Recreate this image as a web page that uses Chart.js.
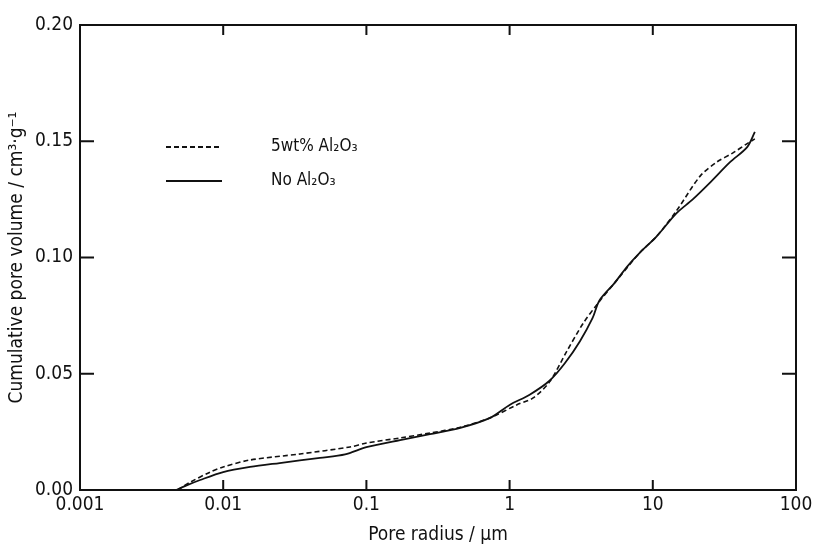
<!DOCTYPE html>
<html>
<head>
<meta charset="utf-8">
<script src="https://cdn.jsdelivr.net/npm/chart.js@4.4.0/dist/chart.umd.min.js"></script>
<style>
  html, body { margin: 0; background: #fff; }
  #wrap { width: 818px; height: 546px; }
</style>
</head>
<body>
<div id="wrap"><canvas id="poreChart"></canvas></div>
<script>
// tick values
const radiusTicks = [0.001, 0.01, 0.1, 1, 10, 100];
const volumeTicks = [0, 0.05, 0.10, 0.15, 0.20];

// No Al2O3 (solid)
const radiusNoAl = [0.0047, 0.0054, 0.0069, 0.010, 0.0154, 0.0248, 0.0474, 0.071, 0.10, 0.172, 0.278, 0.453, 0.73, 1.0, 1.38, 1.9, 2.43, 3.1, 3.8, 4.24, 5.4, 6.6, 8.1, 10.6, 14.6, 19.0, 24.9, 34.6, 45.6, 51.6];
const volumeNoAl = [0.0, 0.0017, 0.0043, 0.0077, 0.0099, 0.0116, 0.0138, 0.0153, 0.0184, 0.0215, 0.0240, 0.0267, 0.0310, 0.0366, 0.0410, 0.0470, 0.0545, 0.0640, 0.0740, 0.0815, 0.0890, 0.0960, 0.1020, 0.1090, 0.1190, 0.1250, 0.1320, 0.1410, 0.1475, 0.1540];

// 5wt% Al2O3 (dashed)
const radiusAl = [0.0048, 0.0059, 0.0081, 0.010, 0.0154, 0.0344, 0.0768, 0.10, 0.172, 0.278, 0.453, 0.73, 1.12, 1.46, 1.9, 2.5, 3.25, 4.1, 5.4, 8.1, 10.6, 14.6, 21.4, 27.9, 36.3, 45.6, 51.6];
const volumeAl = [0.0, 0.0034, 0.0077, 0.0099, 0.0129, 0.0155, 0.0185, 0.0202, 0.0224, 0.0245, 0.0270, 0.0310, 0.0366, 0.0396, 0.0465, 0.0595, 0.0715, 0.0800, 0.0890, 0.1020, 0.1090, 0.1200, 0.1350, 0.1410, 0.1450, 0.1490, 0.1510];

const seriesNames = ['5wt% Al\u2082O\u2083', 'No Al\u2082O\u2083'];

const fontFamily = '"DejaVu Sans Condensed", "DejaVu Sans", sans-serif';
const ink = '#111';

const toPoints = (xs, ys) => xs.map((r, i) => ({ x: r, y: ys[i] }));

// frame, inward ticks and the legend inside the plot
const frameTicks = {
  id: 'frameTicks',
  afterDatasetsDraw(chart) {
    const { ctx, chartArea: a, scales: { x, y } } = chart;
    ctx.save();
    ctx.strokeStyle = ink;
    ctx.lineWidth = 2;
    ctx.strokeRect(a.left, a.top, a.right - a.left, a.bottom - a.top);
    ctx.beginPath();
    radiusTicks.forEach(v => {
      const px = x.getPixelForValue(v);
      ctx.moveTo(px, a.bottom); ctx.lineTo(px, a.bottom - 10);
      ctx.moveTo(px, a.top); ctx.lineTo(px, a.top + 10);
    });
    volumeTicks.forEach(v => {
      const py = y.getPixelForValue(v);
      ctx.moveTo(a.left, py); ctx.lineTo(a.left + 14, py);
      ctx.moveTo(a.right, py); ctx.lineTo(a.right - 14, py);
    });
    ctx.stroke();

    // legend
    ctx.lineWidth = 1.8;
    ctx.setLineDash([5, 3]);
    ctx.beginPath(); ctx.moveTo(166, 147); ctx.lineTo(222, 147); ctx.stroke();
    ctx.setLineDash([]);
    ctx.beginPath(); ctx.moveTo(166, 181); ctx.lineTo(222, 181); ctx.stroke();
    ctx.fillStyle = ink;
    ctx.font = '17px ' + fontFamily;
    ctx.textBaseline = 'middle';
    ctx.fillText(seriesNames[0], 271, 147);
    ctx.fillText(seriesNames[1], 271, 181);
    ctx.restore();
  }
};

new Chart(document.getElementById('poreChart'), {
  type: 'scatter',
  data: {
    datasets: [
      {
        label: seriesNames[0],
        data: toPoints(radiusAl, volumeAl),
        showLine: true,
        borderColor: ink,
        borderWidth: 1.6,
        borderDash: [5, 3],
        pointRadius: 0,
        tension: 0.3
      },
      {
        label: seriesNames[1],
        data: toPoints(radiusNoAl, volumeNoAl),
        showLine: true,
        borderColor: ink,
        borderWidth: 1.8,
        pointRadius: 0,
        tension: 0.3
      }
    ]
  },
  options: {
    responsive: true,
    maintainAspectRatio: false,
    animation: false,
    layout: { padding: { top: 25, right: 22, left: 0, bottom: 0 } },
    plugins: {
      legend: { display: false },
      tooltip: { enabled: false }
    },
    scales: {
      x: {
        type: 'logarithmic',
        min: 0.001,
        max: 100,
        afterBuildTicks: scale => { scale.ticks = radiusTicks.map(v => ({ value: v })); },
        afterFit: scale => { scale.height = 56; },
        grid: { display: false, drawTicks: false },
        border: { display: false },
        ticks: {
          color: ink,
          padding: 4,
          maxRotation: 0,
          font: { family: fontFamily, size: 19 },
          callback: v => String(v)
        },
        title: {
          display: true,
          text: 'Pore radius / \u03bcm',
          color: ink,
          font: { family: fontFamily, size: 19 },
          padding: { top: 0, bottom: 0 }
        }
      },
      y: {
        min: 0,
        max: 0.20,
        afterBuildTicks: scale => { scale.ticks = volumeTicks.map(v => ({ value: v })); },
        afterFit: scale => { scale.width = 80; },
        grid: { display: false, drawTicks: false },
        border: { display: false },
        ticks: {
          color: ink,
          padding: 7,
          font: { family: fontFamily, size: 19 },
          callback: v => v.toFixed(2)
        },
        title: {
          display: true,
          text: 'Cumulative pore volume / cm\u00b3\u00b7g\u207b\u00b9',
          color: ink,
          font: { family: fontFamily, size: 19 },
          padding: { top: 6, bottom: 0 }
        }
      }
    }
  },
  plugins: [frameTicks]
});
</script>
</body>
</html>
